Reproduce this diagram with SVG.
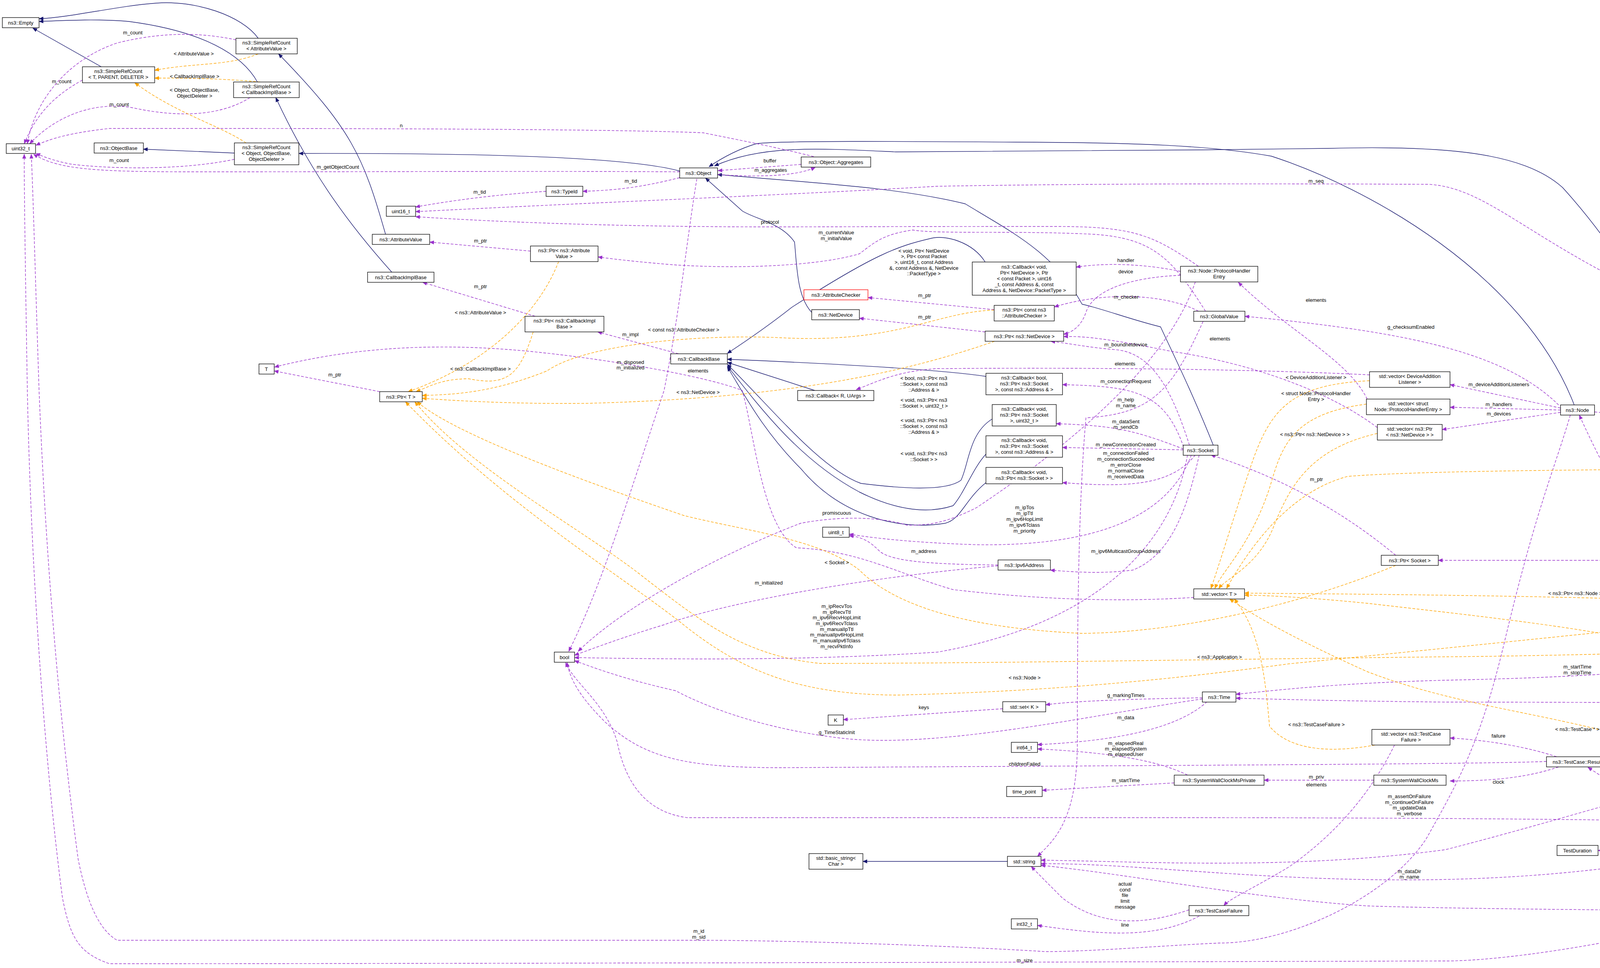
<svg xmlns="http://www.w3.org/2000/svg" width="5528" height="2479" viewBox="0 0 5528 2479">
<style>
text{font-family:"Liberation Sans",Arial,sans-serif;font-size:13px;fill:#000}
.n text{text-anchor:middle}
.n rect{fill:#fff;stroke:#000;stroke-width:1.3}
.r rect{stroke:#ff0000}
.g rect{fill:#bfbfbf}
.u{stroke:#9a32cd;stroke-dasharray:7,4;fill:none;stroke-width:1.4;marker-end:url(#ap)}
.t{stroke:#ffa500;stroke-dasharray:7,4;fill:none;stroke-width:1.4;marker-end:url(#ao)}
.i{stroke:#191970;fill:none;stroke-width:1.4;marker-end:url(#an)}
.l text{text-anchor:middle}
</style>
<defs>
<marker id="ap" markerWidth="12" markerHeight="10" refX="11" refY="5" orient="auto" markerUnits="userSpaceOnUse"><path d="M0,0 L12,5 L0,10 z" fill="#9a32cd"/></marker>
<marker id="ao" markerWidth="12" markerHeight="10" refX="11" refY="5" orient="auto" markerUnits="userSpaceOnUse"><path d="M0,0 L12,5 L0,10 z" fill="#ffa500"/></marker>
<marker id="an" markerWidth="12" markerHeight="10" refX="11" refY="5" orient="auto" markerUnits="userSpaceOnUse"><path d="M0,0 L12,5 L0,10 z" fill="#191970"/></marker>
</defs>
<rect width="5528" height="2479" fill="#fff"/>
<g id="edges">
<!-- inheritance -->
<path class="i" d="M661,98 C620,40 500,0 400,8 C300,15 180,45 100,48"/>
<path class="i" d="M659,210 C620,140 520,80 330,55 C250,48 170,52 100,55"/>
<path class="i" d="M259,171 L84,72"/>
<path class="i" d="M600,392 L367,382"/>
<path class="i" d="M1740,438 C1600,400 1200,392 765,393"/>
<path class="i" d="M987,600 C930,400 900,330 713,138"/>
<path class="i" d="M1003,697 C880,560 790,430 706,250"/>
<path class="i" d="M2078,800 C2040,760 2040,680 2034,620 C2000,570 1930,560 1900,540 L1806,456"/>
<path class="i" d="M4030,1037 C3900,700 3500,480 3255,400 C3100,372 2900,365 2600,364 C2300,362 2000,360 1936,368 C1880,385 1840,410 1815,427"/>
<path class="i" d="M4673,1610 C4600,1590 4621,1560 4560,1450 C4350,1000 4200,700 4000,480 C3900,390 3700,372 3400,380 C3000,385 2500,390 2293,389 C2100,380 1950,370 1829,425"/>
<path class="i" d="M3106,1140 C3050,1000 3000,900 2971,837 C2900,820 2820,790 2770,779 C2700,650 2600,600 2471,522 C2300,480 2100,470 1837,447"/>
<path class="i" d="M2522,671 C2490,620 2420,600 2381,611 C2300,630 2240,650 2027,787 C1960,840 1900,880 1862,905"/>
<path class="i" d="M2524,964 C2400,945 2100,930 1862,920"/>
<path class="i" d="M2086,1000 L1862,928"/>
<path class="i" d="M2540,1073 C2480,1110 2480,1190 2460,1230 C2420,1260 2300,1250 2204,1238 C2100,1200 1980,1050 1862,933"/>
<path class="i" d="M2524,1163 C2490,1200 2470,1260 2440,1295 C2380,1315 2300,1310 2200,1260 C2050,1180 1950,1050 1862,937"/>
<path class="i" d="M2524,1236 C2470,1280 2460,1330 2420,1340 C2300,1360 2150,1320 2050,1200 C1950,1100 1900,1000 1862,940"/>
<path class="i" d="M5431,1794 C5380,2000 5250,2060 5100,2090 C4800,2120 4550,2120 4437,2165"/>
<path class="i" d="M4680,2267 C4560,2240 4500,2210 4425,2191"/>
<path class="i" d="M5428,2239 C5400,2330 5300,2370 5234,2400"/>
<path class="i" d="M2579,2206 L2209,2206"/>
<!-- usage -->
<path class="u" d="M604,102 C500,80 400,85 300,110 C180,150 90,250 70,368"/>
<path class="u" d="M211,205 C130,250 90,300 62,368"/>
<path class="u" d="M640,250 C560,300 450,300 340,276 C250,260 150,290 76,368"/>
<path class="u" d="M600,408 C450,440 250,430 180,420 C130,410 110,400 92,393"/>
<path class="u" d="M1740,440 C1400,438 1000,440 500,440 C250,440 150,435 86,395"/>
<path class="u" d="M2083,401 C2000,380 1900,360 1800,340 C1500,328 600,329 280,329 C180,340 130,355 92,372"/>
<path class="u" d="M2051,421 L1838,437"/>
<path class="u" d="M1838,447 C1950,455 2040,450 2087,429"/>
<path class="u" d="M1740,455 C1640,480 1580,487 1492,490"/>
<path class="u" d="M1398,490 C1250,500 1150,515 1064,530"/>
<path class="u" d="M5430,1767 C5150,1200 4500,800 4200,745 C3900,600 3800,480 3657,472 C3200,470 2800,470 2400,477 C2000,500 1600,515 1064,542"/>
<path class="u" d="M3068,682 C2950,600 2900,580 2700,580 C2300,580 2100,581 1971,581 C1600,581 1300,570 1064,555"/>
<path class="u" d="M3086,797 C3000,660 2950,610 2800,600 C2600,590 2400,600 2337,589 C2260,600 2240,620 2200,650 C2100,680 1900,690 1722,678 C1650,672 1580,665 1531,658"/>
<path class="u" d="M1358,643 L1100,620"/>
<path class="u" d="M1370,810 L1082,723"/>
<path class="u" d="M1737,906 L1530,850"/>
<path class="u" d="M972,1003 L702,950"/>
<path class="u" d="M3056,1530 C2900,1540 2700,1540 2440,1510 C2300,1470 2200,1410 2039,1403 C1950,1350 1930,1100 1900,1000 C1800,960 1500,910 1300,895 C1100,880 900,890 703,940"/>
<path class="u" d="M1784,458 C1760,600 1740,800 1700,1000 C1600,1300 1540,1500 1456,1668"/>
<path class="u" d="M3506,960 C3200,945 2800,941 2400,944 C2300,950 2250,975 2192,998"/>
<path class="u" d="M3022,695 C2950,680 2850,670 2755,684"/>
<path class="u" d="M3022,705 C2900,710 2800,740 2780,800 C2770,830 2750,850 2723,856"/>
<path class="u" d="M3068,797 C3000,760 2850,740 2699,786"/>
<path class="u" d="M2545,793 L2222,762"/>
<path class="u" d="M2522,850 L2200,815"/>
<path class="u" d="M3045,1140 C3000,1000 2950,900 2850,895 C2790,890 2740,880 2690,874"/>
<path class="u" d="M3500,1022 C3450,920 3300,850 3170,723"/>
<path class="u" d="M3526,1095 C3400,1000 3200,930 3000,900 C2850,870 2780,860 2723,862"/>
<path class="u" d="M3995,1045 L3712,985"/>
<path class="u" d="M3995,1050 L3712,1043"/>
<path class="u" d="M3995,1056 L3692,1100"/>
<path class="u" d="M4082,1055 C4300,1075 4400,1072 4700,1072 C5000,1072 5200,1072 5260,1080 C5350,1110 5380,1160 5400,1180"/>
<path class="u" d="M3990,1037 C3850,900 3600,850 3187,810"/>
<path class="u" d="M3030,1145 C2980,1000 2900,990 2720,985"/>
<path class="u" d="M3080,823 C3000,1000 2950,1060 2780,1070 C2760,1300 2758,1600 2758,1900 C2758,2100 2700,2150 2656,2193"/>
<path class="u" d="M3030,1150 C2900,1100 2850,1090 2704,1085"/>
<path class="u" d="M3029,1152 L2720,1146"/>
<path class="u" d="M3060,1165 C3000,1240 2900,1250 2720,1236"/>
<path class="u" d="M3050,1165 C3000,1300 2850,1400 2500,1395 C2350,1390 2250,1380 2174,1368"/>
<path class="u" d="M3060,722 C3000,900 2800,1100 2500,1300 C2420,1340 2380,1345 2322,1345 C2250,1322 2145,1322 2050,1340 C1850,1416 1600,1550 1480,1668"/>
<path class="u" d="M2555,1447 C2400,1445 2280,1440 2250,1410 C2230,1390 2210,1375 2174,1372"/>
<path class="u" d="M3070,1165 C3040,1300 3000,1420 2900,1460 C2820,1470 2750,1465 2689,1460"/>
<path class="u" d="M2555,1449 C2200,1480 1850,1545 1700,1600 C1600,1630 1520,1660 1471,1678"/>
<path class="u" d="M3040,1165 C3000,1400 2800,1600 2400,1670 C2100,1690 1800,1690 1471,1684"/>
<path class="u" d="M3959,1950 C3800,1957 3000,1960 2000,1966 C1750,1966 1650,1940 1550,1850 C1500,1800 1460,1750 1452,1697"/>
<path class="u" d="M3078,1790 C2800,1830 2400,1920 2150,1890 C1900,1860 1750,1780 1730,1769 C1600,1740 1520,1710 1471,1692"/>
<path class="u" d="M4680,1636 C4500,1690 4300,1730 3700,1742 C3400,1750 3250,1770 3164,1778"/>
<path class="u" d="M5359,1785 C5200,1806 5000,1800 3700,1798 C3400,1795 3250,1790 3164,1788"/>
<path class="u" d="M3078,1787 C2900,1790 2750,1795 2677,1805"/>
<path class="u" d="M2567,1815 L2159,1843"/>
<path class="u" d="M3090,1797 C3000,1880 2800,1900 2656,1907"/>
<path class="u" d="M3040,1985 C2950,1940 2800,1925 2656,1918"/>
<path class="u" d="M3006,2005 L2668,2024"/>
<path class="u" d="M3517,1998 L3236,1998"/>
<path class="u" d="M3570,1908 C3500,2050 3400,2150 3300,2220 C3200,2280 3150,2300 3133,2319"/>
<path class="u" d="M3985,1938 C3900,1910 3800,1895 3712,1890"/>
<path class="u" d="M3990,1964 C3900,1995 3800,2000 3712,2000"/>
<path class="u" d="M3044,2330 C2900,2380 2800,2360 2720,2300 C2680,2260 2660,2240 2640,2219"/>
<path class="u" d="M3070,2346 C2950,2410 2800,2390 2656,2370"/>
<path class="u" d="M4337,2190 C4000,2250 3700,2260 3400,2250 C3100,2240 2850,2210 2665,2212"/>
<path class="u" d="M5402,2213 C5350,2150 5250,2125 5000,2120 C4500,2100 3700,2094 3000,2094 C2400,2094 1900,2094 1760,2094 C1650,2080 1600,2000 1580,1900 C1550,1800 1470,1750 1448,1697"/>
<path class="u" d="M5379,1794 C5200,1860 4900,1880 4700,1910 C4300,2000 4000,2100 3700,2176 C3300,2230 2900,2205 2665,2203"/>
<path class="u" d="M4370,2165 L4065,1965"/>
<path class="u" d="M4418,2165 C4420,2120 4365,2125 4369,2164"/>
<path class="u" d="M4447,2172 C4520,2155 4570,2150 4626,2150"/>
<path class="u" d="M4690,2162 C4620,2195 4520,2190 4448,2183"/>
<path class="u" d="M4337,2178 L4091,2178"/>
<path class="u" d="M4447,2190 C4600,2240 4800,2231 5360,2229"/>
<path class="u" d="M5040,2180 C4900,2210 4800,2230 4766,2259"/>
<path class="u" d="M5360,2213 L5220,2188"/>
<path class="u" d="M4680,2282 C4550,2300 4480,2290 4418,2286"/>
<path class="u" d="M5414,2239 C5380,2300 5300,2334 5146,2334 C4500,2334 3800,2330 3500,2320 C3200,2300 2900,2240 2665,2216"/>
<path class="u" d="M4020,1063 C3980,1200 3933,1300 3850,1650 C3790,1900 3735,2000 3650,2150 C3550,2300 3300,2415 3124,2415 C3000,2420 2800,2437 2676,2437 C2400,2420 2000,2408 1789,2408 C1200,2408 600,2408 300,2408 C250,2380 220,2300 200,2200 C160,1900 120,1500 100,1000 C90,700 85,500 80,395"/>
<path class="u" d="M5405,1794 C5390,1900 5340,2050 5297,2085 C5250,2150 5216,2186 5099,2274 C4866,2287 4500,2350 4283,2378 C4000,2440 3800,2461 3700,2461 C2000,2466 800,2468 280,2468 C200,2440 180,2400 160,2300 C120,2000 80,1500 70,1000 C65,700 62,500 62,395"/>
<path class="u" d="M5430,1767 C5360,1680 5300,1620 5210,1580"/>
<path class="u" d="M5359,1775 L5167,1757"/>
<path class="u" d="M5059,1570 L4815,1566"/>
<path class="u" d="M4660,1568 L4475,1584"/>
<path class="u" d="M4673,1615 L4475,1597"/>
<path class="u" d="M5033,1623 L4799,1623"/>
<path class="u" d="M4320,1575 C4260,1450 4150,1300 4043,1063"/>
<path class="u" d="M5420,1767 C5380,1600 5300,1440 5146,1435 C4500,1435 4000,1435 3682,1435"/>
<path class="u" d="M3573,1422 C3450,1320 3300,1230 3100,1165"/>
<path class="u" d="M5425,1220 C5400,1350 5360,1480 5300,1610"/>
<!-- templates -->
<path class="t" d="M661,138 C580,170 500,160 396,180"/>
<path class="t" d="M666,210 C560,200 460,200 396,200"/>
<path class="t" d="M630,366 C560,320 450,290 345,212"/>
<path class="t" d="M2545,794 C2390,800 2300,880 2000,865 C1800,855 1500,880 1400,950 C1250,1010 1150,1010 1081,1013"/>
<path class="t" d="M2546,874 C2300,960 2000,1020 1500,1033 C1300,1035 1150,1025 1081,1020"/>
<path class="t" d="M1430,670 C1380,800 1250,930 1045,1003"/>
<path class="t" d="M1365,850 C1330,960 1300,990 1200,970 C1130,970 1100,990 1065,1003"/>
<path class="t" d="M3573,1448 C3300,1560 3000,1620 2770,1622 C2500,1610 2300,1560 2200,1460 C2100,1380 1900,1358 1750,1320 C1400,1200 1150,1100 1068,1029"/>
<path class="t" d="M5029,1636 C4800,1660 4000,1680 3700,1682 C3000,1690 2500,1699 2100,1699 C1900,1680 1780,1580 1650,1480 C1500,1360 1200,1200 1062,1029"/>
<path class="t" d="M4309,1597 C4000,1630 3700,1660 3300,1700 C3000,1740 2700,1770 2300,1780 C2050,1780 1900,1720 1750,1600 C1600,1480 1300,1300 1038,1029"/>
<path class="t" d="M3506,975 C3300,985 3250,1050 3200,1200 C3150,1350 3120,1450 3100,1507"/>
<path class="t" d="M3498,1035 C3300,1060 3280,1150 3250,1250 C3200,1400 3130,1460 3110,1507"/>
<path class="t" d="M3526,1110 C3350,1150 3300,1250 3260,1350 C3220,1450 3140,1480 3120,1507"/>
<path class="t" d="M5352,1200 C4500,1200 3700,1200 3450,1220 C3300,1260 3200,1400 3140,1507"/>
<path class="t" d="M4660,1556 C4300,1530 3700,1523 3186,1519"/>
<path class="t" d="M5111,2162 C5000,2000 4900,1960 4831,1950 C4500,1750 4300,1650 4166,1635 C4000,1600 3700,1568 3500,1545 C3350,1530 3250,1525 3186,1524"/>
<path class="t" d="M3520,1908 C3400,1930 3300,1920 3250,1860 C3240,1750 3230,1620 3160,1534"/>
<path class="t" d="M4700,2136 C4500,1990 4300,1900 4100,1870 C3900,1820 3700,1797 3500,1720 C3300,1630 3200,1570 3148,1534"/>
<path class="t" d="M5035,2423 L4813,2433"/>
</g>
<g class="l">
<text x="340" y="88">m_count</text>
<text x="158" y="213">m_count</text>
<text x="305" y="272">m_count</text>
<text x="305" y="415">m_count</text>
<text x="865" y="432">m_getObjectCount</text>
<text x="1027" y="326">n</text>
<text x="496" y="142">&lt; AttributeValue &gt;</text>
<text x="498" y="200">&lt; CallbackImplBase &gt;</text>
<text x="498" y="235">&lt; Object, ObjectBase,</text>
<text x="498" y="250">ObjectDeleter &gt;</text>
<text x="1971" y="416">buffer</text>
<text x="1973" y="440">m_aggregates</text>
<text x="1615" y="468">m_tid</text>
<text x="1228" y="496">m_tid</text>
<text x="3369" y="468">m_seq</text>
<text x="1971" y="573">protocol</text>
<text x="2141" y="600">m_currentValue</text>
<text x="2141" y="615">m_initialValue</text>
<text x="1230" y="621">m_ptr</text>
<text x="1230" y="738">m_ptr</text>
<text x="1614" y="861">m_impl</text>
<text x="857" y="964">m_ptr</text>
<text x="1787" y="954">elements</text>
<text x="1614" y="932">m_disposed</text>
<text x="1614" y="946">m_initialized</text>
<text x="1750" y="849">&lt; const ns3::AttributeChecker &gt;</text>
<text x="1787" y="1009">&lt; ns3::NetDevice &gt;</text>
<text x="1230" y="805">&lt; ns3::AttributeValue &gt;</text>
<text x="1230" y="949">&lt; ns3::CallbackImplBase &gt;</text>
<text x="2142" y="1445">&lt; Socket &gt;</text>
<text x="3122" y="1687">&lt; ns3::Application &gt;</text>
<text x="2623" y="1740">&lt; ns3::Node &gt;</text>
<text x="3369" y="971">&lt; DeviceAdditionListener &gt;</text>
<text x="3369" y="1012">&lt; struct Node::ProtocolHandler</text>
<text x="3369" y="1027">Entry &gt;</text>
<text x="3366" y="1117">&lt; ns3::Ptr&lt; ns3::NetDevice &gt; &gt;</text>
<text x="4394" y="1197">&lt; ns3::Ptr&lt; ns3::Application &gt; &gt;</text>
<text x="4038" y="1524">&lt; ns3::Ptr&lt; ns3::Node &gt; &gt;</text>
<text x="3370" y="1860">&lt; ns3::TestCaseFailure &gt;</text>
<text x="4038" y="1872">&lt; ns3::TestCase * &gt;</text>
<text x="4207" y="1654">&lt; TestSuite * &gt;</text>
<text x="4941" y="2420">&lt; TestRunnerImpl &gt;</text>
<text x="2880" y="936">elements</text>
<text x="2882" y="671">handler</text>
<text x="2882" y="700">device</text>
<text x="2883" y="765">m_checker</text>
<text x="2367" y="761">m_ptr</text>
<text x="2367" y="816">m_ptr</text>
<text x="2882" y="887">m_boundnetdevice</text>
<text x="3369" y="773">elements</text>
<text x="3123" y="872">elements</text>
<text x="3837" y="989">m_deviceAdditionListeners</text>
<text x="3837" y="1040">m_handlers</text>
<text x="3837" y="1064">m_devices</text>
<text x="4738" y="1069">m_applications</text>
<text x="3612" y="842">g_checksumEnabled</text>
<text x="2882" y="981">m_connectionRequest</text>
<text x="2882" y="1028">m_help</text>
<text x="2882" y="1043">m_name</text>
<text x="2882" y="1084">m_dataSent</text>
<text x="2882" y="1098">m_sendCb</text>
<text x="2882" y="1143">m_newConnectionCreated</text>
<text x="2882" y="1165">m_connectionFailed</text>
<text x="2882" y="1180">m_connectionSucceeded</text>
<text x="2882" y="1195">m_errorClose</text>
<text x="2882" y="1210">m_normalClose</text>
<text x="2882" y="1225">m_receivedData</text>
<text x="2365" y="973">&lt; bool, ns3::Ptr&lt; ns3</text>
<text x="2365" y="988">::Socket &gt;, const ns3</text>
<text x="2365" y="1003">::Address &amp; &gt;</text>
<text x="2365" y="1029">&lt; void, ns3::Ptr&lt; ns3</text>
<text x="2365" y="1044">::Socket &gt;, uint32_t &gt;</text>
<text x="2365" y="1081">&lt; void, ns3::Ptr&lt; ns3</text>
<text x="2365" y="1096">::Socket &gt;, const ns3</text>
<text x="2365" y="1111">::Address &amp; &gt;</text>
<text x="2365" y="1166">&lt; void, ns3::Ptr&lt; ns3</text>
<text x="2365" y="1181">::Socket &gt; &gt;</text>
<text x="2365" y="647">&lt; void, Ptr&lt; NetDevice</text>
<text x="2365" y="661">&gt;, Ptr&lt; const Packet</text>
<text x="2365" y="676">&gt;, uint16_t, const Address</text>
<text x="2365" y="691">&amp;, const Address &amp;, NetDevice</text>
<text x="2365" y="705">::PacketType &gt;</text>
<text x="2623" y="1304">m_ipTos</text>
<text x="2623" y="1319">m_ipTtl</text>
<text x="2623" y="1334">m_ipv6HopLimit</text>
<text x="2623" y="1349">m_ipv6Tclass</text>
<text x="2623" y="1364">m_priority</text>
<text x="2142" y="1318">promiscuous</text>
<text x="2365" y="1416">m_address</text>
<text x="2882" y="1416">m_ipv6MulticastGroupAddress</text>
<text x="1968" y="1497">m_initialized</text>
<text x="2142" y="1557">m_ipRecvTos</text>
<text x="2142" y="1572">m_ipRecvTtl</text>
<text x="2142" y="1586">m_ipv6RecvHopLimit</text>
<text x="2142" y="1601">m_ipv6RecvTclass</text>
<text x="2142" y="1616">m_manualIpTtl</text>
<text x="2142" y="1630">m_manualIpv6HopLimit</text>
<text x="2142" y="1645">m_manualIpv6Tclass</text>
<text x="2142" y="1660">m_recvPktInfo</text>
<text x="2623" y="1961">childrenFailed</text>
<text x="2142" y="1880">g_TimeStaticInit</text>
<text x="4038" y="1712">m_startTime</text>
<text x="4038" y="1727">m_stopTime</text>
<text x="4392" y="1786">m_arpAliveTimeout</text>
<text x="4392" y="1801">m_time</text>
<text x="2882" y="1785">g_markingTimes</text>
<text x="2365" y="1816">keys</text>
<text x="2882" y="1842">m_data</text>
<text x="2882" y="1908">m_elapsedReal</text>
<text x="2882" y="1922">m_elapsedSystem</text>
<text x="2882" y="1936">m_elapsedUser</text>
<text x="2882" y="2003">m_startTime</text>
<text x="3370" y="1994">m_priv</text>
<text x="3370" y="2014">elements</text>
<text x="3836" y="1889">failure</text>
<text x="3836" y="2007">clock</text>
<text x="2880" y="2268">actual</text>
<text x="2880" y="2283">cond</text>
<text x="2880" y="2297">file</text>
<text x="2880" y="2312">limit</text>
<text x="2880" y="2327">message</text>
<text x="2880" y="2373">line</text>
<text x="3608" y="2236">m_dataDir</text>
<text x="3608" y="2250">m_name</text>
<text x="3608" y="2044">m_assertOnFailure</text>
<text x="3608" y="2059">m_continueOnFailure</text>
<text x="3608" y="2073">m_updateData</text>
<text x="3608" y="2088">m_verbose</text>
<text x="4207" y="1979">m_prefix</text>
<text x="4207" y="2027">m_result</text>
<text x="4390" y="2137">m_parent</text>
<text x="4566" y="2151">m_children</text>
<text x="4566" y="2176">elements</text>
<text x="4207" y="2174">m_duration</text>
<text x="4941" y="2222">m_runner</text>
<text x="4941" y="2177">elements</text>
<text x="5298" y="2194">m_suites</text>
<text x="4565" y="2285">m_type</text>
<text x="4207" y="2329">m_tempDir</text>
<text x="1789" y="2389">m_id</text>
<text x="1789" y="2404">m_sid</text>
<text x="2623" y="2464">m_size</text>
<text x="5298" y="1604">m_nodes</text>
<text x="5298" y="1761">m_step</text>
<text x="4942" y="1562">m_nodes</text>
<text x="4565" y="1569">elements</text>
<text x="4565" y="1598">m_node</text>
<text x="4942" y="1620">m_ptr</text>
<text x="4207" y="1384">m_ptr</text>
<text x="4565" y="1432">m_socket</text>
<text x="3370" y="1232">m_ptr</text>
<text x="5295" y="1491">elements</text>
</g>
<g id="nEmpty" class="n"><rect x="6" y="45" width="94" height="26"/><text x="53" y="63">ns3::Empty</text></g>
<g id="nSrcAV" class="n"><rect x="604" y="98" width="157" height="40"/><text x="682" y="114">ns3::SimpleRefCount</text><text x="682" y="129">&lt; AttributeValue &gt;</text></g>
<g id="nSrcT" class="n"><rect x="211" y="171" width="185" height="41"/><text x="303" y="187">ns3::SimpleRefCount</text><text x="303" y="202">&lt; T, PARENT, DELETER &gt;</text></g>
<g id="nSrcCIB" class="n"><rect x="598" y="210" width="168" height="40"/><text x="682" y="226">ns3::SimpleRefCount</text><text x="682" y="241">&lt; CallbackImplBase &gt;</text></g>
<g id="nUint32" class="n"><rect x="16" y="368" width="75" height="25"/><text x="53" y="385">uint32_t</text></g>
<g id="nObjectBase" class="n"><rect x="241" y="366" width="126" height="26"/><text x="304" y="384">ns3::ObjectBase</text></g>
<g id="nSrcObj" class="n"><rect x="600" y="366" width="165" height="56"/><text x="682" y="382">ns3::SimpleRefCount</text><text x="682" y="397">&lt; Object, ObjectBase,</text><text x="682" y="412">ObjectDeleter &gt;</text></g>
<g id="nUint16" class="n"><rect x="989" y="528" width="75" height="26"/><text x="1026" y="546">uint16_t</text></g>
<g id="nAttributeValue" class="n"><rect x="953" y="600" width="147" height="26"/><text x="1026" y="618">ns3::AttributeValue</text></g>
<g id="nTypeId" class="n"><rect x="1398" y="477" width="94" height="26"/><text x="1445" y="495">ns3::TypeId</text></g>
<g id="nObject" class="n"><rect x="1740" y="430" width="97" height="26"/><text x="1788" y="448">ns3::Object</text></g>
<g id="nAggregates" class="n"><rect x="2051" y="402" width="178" height="26"/><text x="2140" y="420">ns3::Object::Aggregates</text></g>
<g id="nPtrAV" class="n"><rect x="1358" y="630" width="173" height="40"/><text x="1444" y="646">ns3::Ptr&lt; ns3::Attribute</text><text x="1444" y="661">Value &gt;</text></g>
<g id="nCIB" class="n"><rect x="941" y="697" width="170" height="26"/><text x="1026" y="715">ns3::CallbackImplBase</text></g>
<g id="nPtrCIB" class="n"><rect x="1344" y="810" width="202" height="40"/><text x="1445" y="826">ns3::Ptr&lt; ns3::CallbackImpl</text><text x="1445" y="841">Base &gt;</text></g>
<g id="nCallbackBase" class="n"><rect x="1717" y="906" width="145" height="26"/><text x="1789" y="924">ns3::CallbackBase</text></g>
<g id="nT" class="n"><rect x="663" y="932" width="39" height="26"/><text x="682" y="950">T</text></g>
<g id="nPtrT" class="n"><rect x="972" y="1003" width="109" height="26"/><text x="1026" y="1021">ns3::Ptr&lt; T &gt;</text></g>
<g id="nCbVoidND" class="n"><rect x="2489" y="671" width="266" height="85"/><text x="2622" y="688">ns3::Callback&lt; void,</text><text x="2622" y="703">Ptr&lt; NetDevice &gt;, Ptr</text><text x="2622" y="718">&lt; const Packet &gt;, uint16</text><text x="2622" y="733">_t, const Address &amp;, const</text><text x="2622" y="748">Address &amp;, NetDevice::PacketType &gt;</text></g>
<g id="nAttributeChecker" class="n r"><rect x="2058" y="742" width="164" height="26"/><text x="2140" y="760">ns3::AttributeChecker</text></g>
<g id="nNetDevice" class="n"><rect x="2078" y="793" width="122" height="26"/><text x="2139" y="811">ns3::NetDevice</text></g>
<g id="nPtrConstAC" class="n"><rect x="2545" y="782" width="154" height="40"/><text x="2622" y="798">ns3::Ptr&lt; const ns3</text><text x="2622" y="813">::AttributeChecker &gt;</text></g>
<g id="nPtrNetDevice" class="n"><rect x="2522" y="848" width="201" height="26"/><text x="2622" y="866">ns3::Ptr&lt; ns3::NetDevice &gt;</text></g>
<g id="nPHEntry" class="n"><rect x="3022" y="682" width="198" height="40"/><text x="3121" y="698">ns3::Node::ProtocolHandler</text><text x="3121" y="713">Entry</text></g>
<g id="nGlobalValue" class="n"><rect x="3056" y="797" width="131" height="26"/><text x="3121" y="815">ns3::GlobalValue</text></g>
<g id="nCallbackRUArgs" class="n"><rect x="2042" y="1000" width="195" height="26"/><text x="2139" y="1018">ns3::Callback&lt; R, UArgs &gt;</text></g>
<g id="nCbBoolSock" class="n"><rect x="2524" y="956" width="196" height="55"/><text x="2622" y="972">ns3::Callback&lt; bool,</text><text x="2622" y="987">ns3::Ptr&lt; ns3::Socket</text><text x="2622" y="1002">&gt;, const ns3::Address &amp; &gt;</text></g>
<g id="nCbVoidSockU32" class="n"><rect x="2540" y="1036" width="164" height="55"/><text x="2622" y="1052">ns3::Callback&lt; void,</text><text x="2622" y="1067">ns3::Ptr&lt; ns3::Socket</text><text x="2622" y="1082">&gt;, uint32_t &gt;</text></g>
<g id="nCbVoidSockAddr" class="n"><rect x="2524" y="1116" width="196" height="55"/><text x="2622" y="1132">ns3::Callback&lt; void,</text><text x="2622" y="1147">ns3::Ptr&lt; ns3::Socket</text><text x="2622" y="1162">&gt;, const ns3::Address &amp; &gt;</text></g>
<g id="nCbVoidSock" class="n"><rect x="2524" y="1197" width="196" height="42"/><text x="2622" y="1214">ns3::Callback&lt; void,</text><text x="2622" y="1229">ns3::Ptr&lt; ns3::Socket &gt; &gt;</text></g>
<g id="nSocket" class="n"><rect x="3029" y="1140" width="89" height="26"/><text x="3073" y="1158">ns3::Socket</text></g>
<g id="nVecDAL" class="n"><rect x="3506" y="952" width="206" height="40"/><text x="3609" y="968">std::vector&lt; DeviceAddition</text><text x="3609" y="983">Listener &gt;</text></g>
<g id="nVecPHE" class="n"><rect x="3498" y="1022" width="214" height="40"/><text x="3605" y="1038">std::vector&lt; struct</text><text x="3605" y="1053">Node::ProtocolHandlerEntry &gt;</text></g>
<g id="nVecPtrND" class="n"><rect x="3526" y="1087" width="166" height="40"/><text x="3609" y="1103">std::vector&lt; ns3::Ptr</text><text x="3609" y="1118">&lt; ns3::NetDevice &gt; &gt;</text></g>
<g id="nNode" class="n"><rect x="3995" y="1037" width="87" height="26"/><text x="4038" y="1055">ns3::Node</text></g>
<g id="nVecPtrApp" class="n"><rect x="5352" y="1180" width="170" height="40"/><text x="5437" y="1196">std::vector&lt; ns3::Ptr</text><text x="5437" y="1211">&lt; ns3::Application &gt; &gt;</text></g>
<g id="nBool" class="n"><rect x="1419" y="1670" width="52" height="26"/><text x="1445" y="1688">bool</text></g>
<g id="nUint8" class="n"><rect x="2106" y="1350" width="68" height="26"/><text x="2140" y="1368">uint8_t</text></g>
<g id="nIpv6Address" class="n"><rect x="2555" y="1434" width="134" height="26"/><text x="2622" y="1452">ns3::Ipv6Address</text></g>
<g id="nPtrSocket" class="n"><rect x="3536" y="1422" width="146" height="26"/><text x="3609" y="1440">ns3::Ptr&lt; Socket &gt;</text></g>
<g id="nVecT" class="n"><rect x="3056" y="1508" width="130" height="26"/><text x="3121" y="1526">std::vector&lt; T &gt;</text></g>
<g id="nTime" class="n"><rect x="3078" y="1772" width="86" height="26"/><text x="3121" y="1790">ns3::Time</text></g>
<g id="nSetK" class="n"><rect x="2567" y="1797" width="110" height="26"/><text x="2622" y="1815">std::set&lt; K &gt;</text></g>
<g id="nK" class="n"><rect x="2120" y="1831" width="39" height="26"/><text x="2139" y="1849">K</text></g>
<g id="nInt64" class="n"><rect x="2589" y="1901" width="67" height="26"/><text x="2622" y="1919">int64_t</text></g>
<g id="nVecTCF" class="n"><rect x="3512" y="1868" width="200" height="40"/><text x="3612" y="1884">std::vector&lt; ns3::TestCase</text><text x="3612" y="1899">Failure &gt;</text></g>
<g id="nSWCMP" class="n"><rect x="3006" y="1985" width="230" height="26"/><text x="3121" y="2003">ns3::SystemWallClockMsPrivate</text></g>
<g id="nSWCM" class="n"><rect x="3517" y="1985" width="185" height="26"/><text x="3609" y="2003">ns3::SystemWallClockMs</text></g>
<g id="nTimePoint" class="n"><rect x="2577" y="2014" width="91" height="26"/><text x="2622" y="2032">time_point</text></g>
<g id="nBasicString" class="n"><rect x="2071" y="2186" width="138" height="40"/><text x="2140" y="2202">std::basic_string&lt;</text><text x="2140" y="2217">Char &gt;</text></g>
<g id="nString" class="n"><rect x="2579" y="2193" width="86" height="26"/><text x="2622" y="2211">std::string</text></g>
<g id="nTCF" class="n"><rect x="3044" y="2319" width="153" height="26"/><text x="3120" y="2337">ns3::TestCaseFailure</text></g>
<g id="nInt32" class="n"><rect x="2589" y="2353" width="67" height="26"/><text x="2622" y="2371">int32_t</text></g>
<g id="nVecPtrNode" class="n"><rect x="4660" y="1545" width="155" height="40"/><text x="4737" y="1561">std::vector&lt; ns3::Ptr</text><text x="4737" y="1576">&lt; ns3::Node &gt; &gt;</text></g>
<g id="nPtrNode" class="n"><rect x="4309" y="1575" width="166" height="26"/><text x="4392" y="1593">ns3::Ptr&lt; ns3::Node &gt;</text></g>
<g id="nNodeContainer" class="n"><rect x="5059" y="1558" width="151" height="26"/><text x="5134" y="1576">ns3::NodeContainer</text></g>
<g id="nApplication" class="n r"><rect x="4673" y="1610" width="126" height="26"/><text x="4736" y="1628">ns3::Application</text></g>
<g id="nPtrApp" class="n"><rect x="5033" y="1610" width="204" height="26"/><text x="5135" y="1628">ns3::Ptr&lt; ns3::Application &gt;</text></g>
<g id="nDouble" class="n"><rect x="5101" y="1742" width="66" height="26"/><text x="5134" y="1760">double</text></g>
<g id="nChain" class="n g"><rect x="5359" y="1767" width="156" height="27"/><text x="5437" y="1785">ChainRegressionTest</text></g>
<g id="nTCResult" class="n"><rect x="3959" y="1938" width="158" height="26"/><text x="4038" y="1956">ns3::TestCase::Result</text></g>
<g id="nTestCase" class="n"><rect x="4337" y="2165" width="110" height="26"/><text x="4392" y="2183">ns3::TestCase</text></g>
<g id="nTestDuration" class="n"><rect x="3986" y="2165" width="105" height="26"/><text x="4038" y="2183">TestDuration</text></g>
<g id="nVecTC" class="n"><rect x="4626" y="2136" width="222" height="26"/><text x="4737" y="2154">std::vector&lt; ns3::TestCase * &gt;</text></g>
<g id="nVecTS" class="n"><rect x="5040" y="2162" width="188" height="26"/><text x="5134" y="2180">std::vector&lt; TestSuite * &gt;</text></g>
<g id="nTestRunnerImpl" class="n"><rect x="5360" y="2213" width="154" height="26"/><text x="5437" y="2231">ns3::TestRunnerImpl</text></g>
<g id="nTestSuite" class="n"><rect x="4680" y="2259" width="112" height="26"/><text x="4736" y="2277">ns3::TestSuite</text></g>
<g id="nType" class="n"><rect x="4365" y="2270" width="53" height="26"/><text x="4391" y="2288">Type</text></g>
<g id="nSingletonTRI" class="n"><rect x="5035" y="2398" width="199" height="40"/><text x="5134" y="2414">ns3::Singleton&lt; TestRunner</text><text x="5134" y="2429">Impl &gt;</text></g>
<g id="nSingletonT" class="n"><rect x="4661" y="2422" width="152" height="26"/><text x="4737" y="2440">ns3::Singleton&lt; T &gt;</text></g>
</svg>
